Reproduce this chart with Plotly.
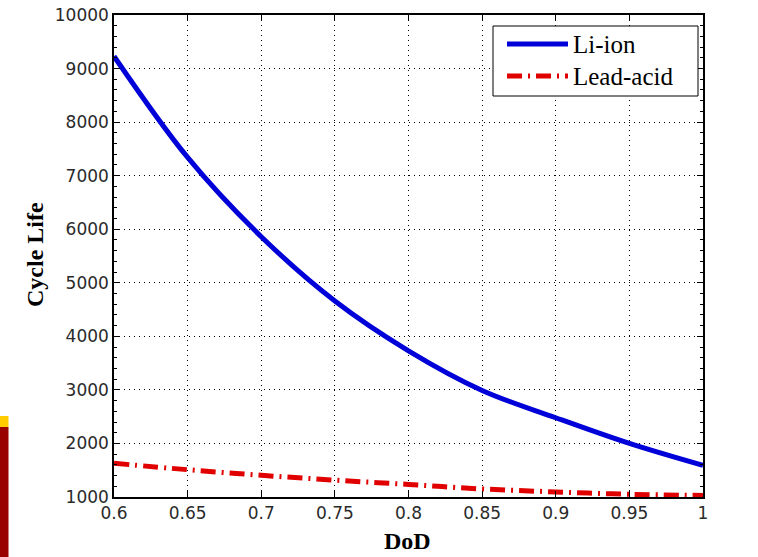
import plotly.graph_objects as go

dod = [0.60, 0.65, 0.70, 0.75, 0.80, 0.85, 0.90, 0.95, 1.00]
li_ion = [9230, 7340, 5860, 4660, 3730, 2990, 2480, 2000, 1590]
lead_acid = [1630, 1510, 1405, 1315, 1235, 1150, 1095, 1050, 1030]

x_ticks = [0.6, 0.65, 0.7, 0.75, 0.8, 0.85, 0.9, 0.95, 1.0]
x_ticktext = ["0.6", "0.65", "0.7", "0.75", "0.8", "0.85", "0.9", "0.95", "1"]
y_ticks = [1000, 2000, 3000, 4000, 5000, 6000, 7000, 8000, 9000, 10000]
y_ticktext = ["1000", "2000", "3000", "4000", "5000", "6000", "7000", "8000", "9000", "10000"]

BLUE = "#0000d8"
RED = "#e00000"

W, H = 758, 557
L, R, T, B = 114, 703, 15, 497


def px(x):
    return (x - L) / (R - L)


def py(y):
    return (B - y) / (B - T)


fig = go.Figure()
fig.add_trace(go.Scatter(x=dod, y=li_ion, mode="lines", name="Li-ion",
                         line=dict(color=BLUE, width=5, shape="spline")))
fig.add_trace(go.Scatter(x=dod, y=lead_acid, mode="lines", name="Lead-acid",
                         line=dict(color=RED, width=5, shape="spline",
                                   dash="15px,6px,2px,6px")))

axis_common = dict(
    showline=True, linecolor="black", linewidth=1.5, mirror="ticks",
    ticks="inside", ticklen=6, tickcolor="black", tickwidth=1,
    showgrid=True, gridcolor="black", gridwidth=1, griddash="1px,4px",
    zeroline=False, automargin=False,
    tickfont=dict(family="DejaVu Sans, sans-serif", size=17, color="#2a2a2a"),
)

fig.update_xaxes(range=[0.6, 1.0], tickvals=x_ticks, ticktext=x_ticktext, **axis_common)
fig.update_yaxes(range=[1000, 10000], tickvals=y_ticks, ticktext=y_ticktext,
                 minor=dict(dtick=200, ticks="inside", ticklen=3, tickcolor="black", showgrid=False),
                 **axis_common)

shapes = [
    # slide edge decoration on the left
    dict(type="rect", xref="paper", yref="paper", x0=px(0), x1=px(8.5), y0=py(416), y1=py(427),
         fillcolor="#ffcc00", line=dict(width=0), layer="below"),
    dict(type="rect", xref="paper", yref="paper", x0=px(0), x1=px(8.5), y0=py(427), y1=py(560),
         fillcolor="#990000", line=dict(width=0), layer="below"),
    # legend box
    dict(type="rect", xref="paper", yref="paper", x0=px(493), x1=px(698), y0=py(96), y1=py(26),
         fillcolor="white", line=dict(color="black", width=1), layer="above"),
    dict(type="line", xref="paper", yref="paper", x0=px(507), x1=px(568), y0=py(44), y1=py(44),
         line=dict(color=BLUE, width=5)),
    dict(type="line", xref="paper", yref="paper", x0=px(507), x1=px(568), y0=py(76), y1=py(76),
         line=dict(color=RED, width=5, dash="15px,6px,2px,6px")),
]

serif = "Liberation Serif, Times New Roman, serif"
annotations = [
    dict(text="Li-ion", xref="paper", yref="paper", x=px(571), y=py(44), xanchor="left",
         yanchor="middle", showarrow=False, font=dict(family=serif, size=25, color="black")),
    dict(text="Lead-acid", xref="paper", yref="paper", x=px(571), y=py(76), xanchor="left",
         yanchor="middle", showarrow=False, font=dict(family=serif, size=25, color="black")),
    dict(text="<b>DoD</b>", xref="paper", yref="paper", x=px(407), y=py(541), xanchor="center",
         yanchor="middle", showarrow=False, font=dict(family=serif, size=24, color="black")),
    dict(text="<b>Cycle Life</b>", xref="paper", yref="paper", x=px(35), y=py(255), xanchor="center",
         yanchor="middle", textangle=-90, showarrow=False,
         font=dict(family=serif, size=24, color="black")),
]

fig.update_layout(
    width=W, height=H,
    margin=dict(l=L, r=W - R, t=T, b=H - B, pad=0, autoexpand=False),
    paper_bgcolor="white", plot_bgcolor="white",
    showlegend=False,
    shapes=shapes, annotations=annotations,
)

fig.write_html(
    "out.html",
    config={"displayModeBar": False},
    post_script="document.body.style.margin='0px';document.body.style.overflow='hidden';",
)
